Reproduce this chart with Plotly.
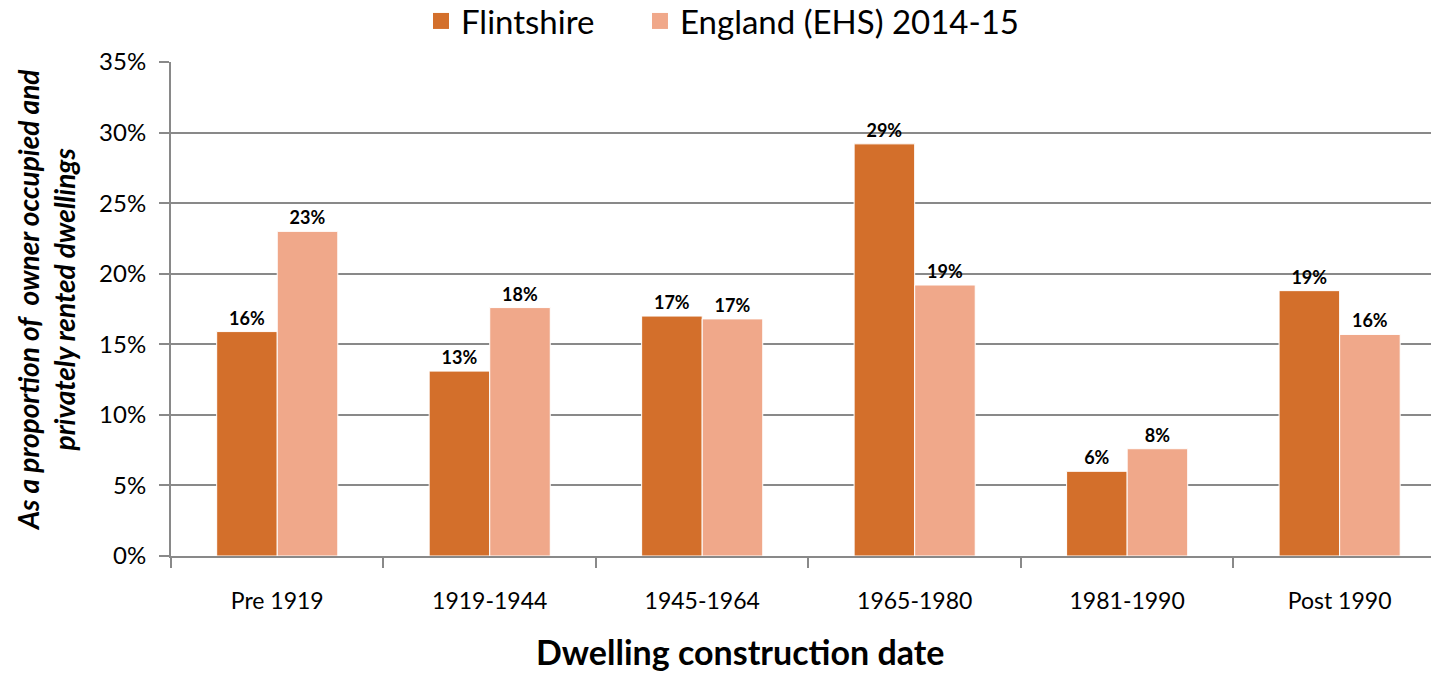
import plotly.graph_objects as go

# Share of owner occupied and privately rented dwellings by construction date
periods = ["Pre 1919", "1919-1944", "1945-1964", "1965-1980", "1981-1990", "Post 1990"]
flintshire = [0.159, 0.131, 0.170, 0.292, 0.060, 0.188]
england_ehs = [0.230, 0.176, 0.168, 0.192, 0.076, 0.157]
series_names = ["Flintshire", "England (EHS) 2014-15"]
series_colors = ["#D36F2B", "#F0A88A"]

FONT = "Lato"
GRID = "#898989"

fig = go.Figure()
for name, values, color in zip(series_names, [flintshire, england_ehs], series_colors):
    fig.add_trace(go.Bar(
        name=name, x=periods, y=values, showlegend=False,
        marker=dict(color=color, line=dict(color="white", width=1)),
        texttemplate="%{y:.0%}", textposition="outside", cliponaxis=False,
        textfont=dict(family=FONT, size=18, color="black", weight="bold"),
    ))
# square legend keys, one legend box per series
for name, color, leg in zip(series_names, series_colors, ["legend", "legend2"]):
    fig.add_trace(go.Scatter(
        name=name, x=[periods[0]], y=[None], mode="markers", legend=leg,
        marker=dict(symbol="square", size=20, color=color),
    ))

legend_style = dict(
    orientation="h", xanchor="left", y=1.083, yanchor="middle",
    font=dict(family=FONT, size=33, color="black"), itemwidth=30,
    bgcolor="rgba(0,0,0,0)",
)

fig.update_layout(
    width=1431, height=673,
    margin=dict(l=171, r=0, t=62, b=117, autoexpand=False),
    paper_bgcolor="white", plot_bgcolor="white",
    barmode="group", bargap=0.43, bargroupgap=0,
    font=dict(family=FONT, color="black"),
    legend=dict(x=0.1984, **legend_style),
    legend2=dict(x=0.3722, **legend_style),
    xaxis=dict(
        type="category", range=[-0.5, 5.43],
        showgrid=False, showline=True, linecolor=GRID, linewidth=2,
        ticks="outside", tickson="boundaries", ticklen=10, tickcolor=GRID, tickwidth=2,
        tickfont=dict(family=FONT, size=23, color="black"),
        ticklabelstandoff=23,
    ),
    yaxis=dict(
        range=[0, 0.35], dtick=0.05, tickformat=".0%",
        showgrid=True, gridcolor=GRID, gridwidth=2,
        showline=True, linecolor=GRID, linewidth=2,
        ticks="outside", ticklen=10, tickcolor=GRID, tickwidth=2,
        tickfont=dict(family=FONT, size=24, color="black"),
        ticklabelstandoff=8, zeroline=False,
    ),
    annotations=[
        dict(
            text="Dwelling construction date", xref="paper", yref="paper",
            x=0.4516, y=-0.1943, xanchor="center", yanchor="middle",
            showarrow=False, font=dict(family=FONT, size=34, color="black", weight="bold"),
        ),
        dict(
            text="<i>As a proportion of  owner occupied and<br>privately rented dwellings</i>",
            xref="paper", yref="paper", x=-0.0992, y=0.518,
            xanchor="center", yanchor="middle", textangle=-90, showarrow=False,
            font=dict(family=FONT, size=28, color="black", weight="bold"),
        ),
    ],
)

fig.write_html("out.html")
